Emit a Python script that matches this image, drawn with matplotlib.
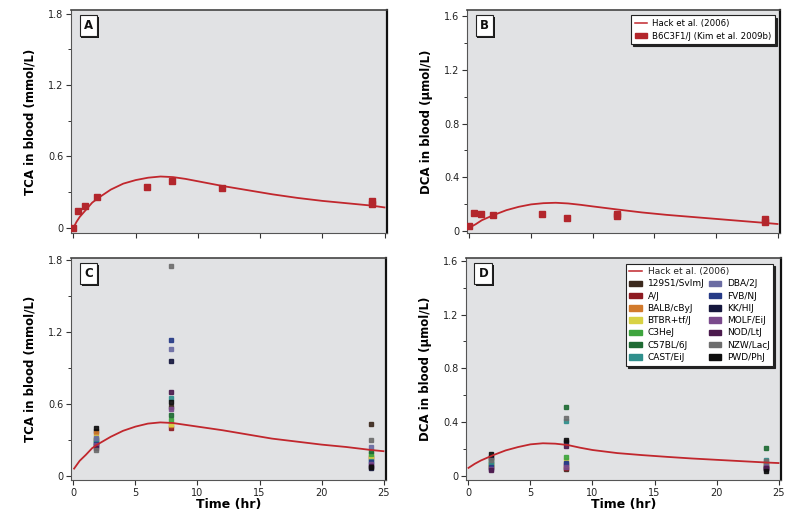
import matplotlib
matplotlib.use("Agg")
import matplotlib.pyplot as plt
from matplotlib.lines import Line2D
from matplotlib.patches import Patch
from matplotlib.ticker import MultipleLocator, FixedLocator
import matplotlib.patheffects as pe

plt.rcParams['font.family'] = ['Liberation Sans Narrow', 'DejaVu Sans']

RED = '#c1272d'
BG = '#e1e2e4'

# ---------------- data ----------------
# B6C3F1/J (Kim et al. 2009b)
kim_time = [0, 0.4, 0.9, 1.9, 5.9, 7.9, 11.95, 24, 24]
kim_tca = [0.0, 0.14, 0.18, 0.26, 0.34, 0.395, 0.33, 0.20, 0.22]
kim_dca_time = [0, 0.4, 0.9, 1.9, 5.9, 7.9, 11.95, 11.95, 24, 24]
kim_dca = [0.04, 0.135, 0.125, 0.12, 0.125, 0.10, 0.11, 0.13, 0.07, 0.09]

# Hack et al. (2006) model curves
curve_t_a = [0, 0.25, 0.5, 1, 1.5, 2, 3, 4, 5, 6, 7, 8, 9, 10, 11, 12, 14, 16, 18, 20, 22, 24, 25]
hack_tca_a = [0, 0.05, 0.09, 0.15, 0.21, 0.25, 0.32, 0.37, 0.40, 0.42, 0.43, 0.425, 0.41, 0.39,
              0.37, 0.35, 0.315, 0.28, 0.25, 0.225, 0.205, 0.185, 0.17]
curve_t_b = [0, 0.5, 1, 2, 3, 4, 5, 6, 7, 8, 9, 10, 12, 14, 16, 18, 20, 22, 24, 25]
hack_dca_b = [0.025, 0.05, 0.08, 0.12, 0.155, 0.18, 0.198, 0.207, 0.21, 0.205, 0.195, 0.183,
              0.16, 0.138, 0.12, 0.105, 0.09, 0.075, 0.06, 0.052]
curve_t_c = [0.05, 0.5, 1, 1.5, 2, 3, 4, 5, 6, 7, 8, 9, 10, 12, 14, 16, 18, 20, 22, 24, 25]
hack_tca_c = [0.065, 0.13, 0.18, 0.235, 0.27, 0.33, 0.38, 0.415, 0.44, 0.45, 0.445, 0.43, 0.415,
              0.385, 0.35, 0.315, 0.29, 0.265, 0.245, 0.22, 0.21]
curve_t_d = [0, 0.5, 1, 2, 3, 4, 5, 6, 7, 8, 9, 10, 12, 14, 16, 18, 20, 22, 24, 25]
hack_dca_d = [0.06, 0.09, 0.115, 0.155, 0.19, 0.215, 0.235, 0.243, 0.24, 0.23, 0.21, 0.193,
              0.17, 0.155, 0.142, 0.13, 0.12, 0.11, 0.10, 0.096]

# mouse strains
strains = ['129S1/SvImJ', 'A/J', 'BALB/cByJ', 'BTBR+tf/J', 'C3HeJ', 'C57BL/6J', 'CAST/EiJ',
           'DBA/2J', 'FVB/NJ', 'KK/HIJ', 'MOLF/EiJ', 'NOD/LtJ', 'NZW/LacJ', 'PWD/PhJ']
strain_colors = ['#3d2a1e', '#8e1b22', '#d27a2c', '#d8d244', '#3ea53e', '#1f6b34', '#2f8f8c',
                 '#6b6ca3', '#263a86', '#15173d', '#7a4a8c', '#4b1a4d', '#6e6e6e', '#0e0e0e']
strain_times = [1.85, 7.9, 24]
tca_t2 = [0.38, 0.30, 0.36, 0.33, 0.31, 0.28, 0.29, 0.32, 0.27, 0.25, 0.26, 0.24, 0.22, 0.40]
tca_t8 = [0.58, 0.40, 0.43, 0.44, 0.47, 0.51, 0.65, 1.06, 1.14, 0.96, 0.56, 0.70, 1.75, 0.62]
tca_t24 = [0.44, 0.15, 0.16, 0.17, 0.19, 0.21, 0.13, 0.245, 0.12, 0.07, 0.10, 0.09, 0.30, 0.08]
dca_t2 = [0.13, 0.08, 0.07, 0.075, 0.09, 0.11, 0.10, 0.06, 0.07, 0.14, 0.05, 0.045, 0.12, 0.16]
dca_t8 = [0.05, 0.06, 0.08, 0.12, 0.14, 0.51, 0.41, 0.09, 0.10, 0.25, 0.07, 0.22, 0.43, 0.27]
dca_t24 = [0.07, 0.06, 0.08, 0.09, 0.10, 0.21, 0.12, 0.08, 0.06, 0.05, 0.07, 0.06, 0.11, 0.04]

panel_labels = ['A', 'B', 'C', 'D']
tca_label = 'TCA in blood (mmol/L)'
dca_label = 'DCA in blood (\u03bcmol/L)'
x_label = 'Time (hr)'
hack_name = 'Hack et al. (2006)'
kim_name = 'B6C3F1/J (Kim et al. 2009b)'

# ---------------- figure ----------------
fig = plt.figure(figsize=(8, 5.2), dpi=100)
W, H = 800, 520

def make_ax(x0, x1, y0, y1):
    return fig.add_axes([x0 / W, 1 - y1 / H, (x1 - x0) / W, (y1 - y0) / H])

axA = make_ax(71, 387, 10, 233)
axB = make_ax(467, 780, 10, 233)
axC = make_ax(71, 386, 258, 480)
axD = make_ax(466, 781, 258, 480)

def style(ax, ymax_major, ystep, ylim, ylabel, show_x):
    ax.set_facecolor(BG)
    ax.set_xlim(-0.2, 25.2)
    ax.set_ylim(*ylim)
    ax.xaxis.set_major_locator(FixedLocator([0, 5, 10, 15, 20, 25]))
    ax.yaxis.set_minor_locator(MultipleLocator(ystep / 2))
    ticks = [i * ystep for i in range(int(round(ymax_major / ystep)) + 1)]
    ax.set_yticks(ticks)
    ax.set_yticklabels(['0'] + ['%.1f' % t for t in ticks[1:]])
    ax.tick_params(axis='both', which='major', length=3.5, width=0.8, labelsize=7,
                   color='#333333', labelcolor='#222222', pad=2)
    ax.tick_params(axis='y', which='minor', length=2.5, width=0.7, color='#333333')
    if not show_x:
        ax.set_xticklabels([])
    else:
        ax.set_xlabel(x_label, fontsize=9, fontweight='bold', labelpad=0)
    ax.set_ylabel(ylabel, fontsize=8.5, fontweight='bold', labelpad=8)
    for s in ['left', 'bottom']:
        ax.spines[s].set_color('#555555')
        ax.spines[s].set_linewidth(0.8)
    ax.spines['top'].set_color('#444444')
    ax.spines['top'].set_linewidth(1.2)
    ax.spines['right'].set_color('#111111')
    ax.spines['right'].set_linewidth(1.6)

def panel_label(ax, txt):
    t = ax.text(0.055, 0.93, txt, transform=ax.transAxes, fontsize=8.5,
                fontweight='bold', color='#111111', ha='center', va='center',
                bbox=dict(boxstyle='square,pad=0.35', fc='white', ec='#222222', lw=0.8), zorder=6)
    t.get_bbox_patch().set_path_effects([
        pe.SimplePatchShadow(offset=(1.3, -1.3), shadow_rgbFace='#1a1a1a', alpha=1.0),
        pe.Normal()])

style(axA, 1.8, 0.6, (-0.045, 1.83), tca_label, False)
style(axB, 1.6, 0.4, (-0.015, 1.645), dca_label, False)
style(axC, 1.8, 0.6, (-0.03, 1.82), tca_label, True)
style(axD, 1.6, 0.4, (-0.03, 1.62), dca_label, True)

# panel A
axA.plot(curve_t_a, hack_tca_a, color=RED, lw=1.3, zorder=3)
axA.plot(kim_time, kim_tca, 's', color='#b3262c', ms=3.8, zorder=4)
# panel B
axB.plot(curve_t_b, hack_dca_b, color=RED, lw=1.3, zorder=3)
axB.plot(kim_dca_time, kim_dca, 's', color='#b3262c', ms=3.8, zorder=4)

# panels C, D
for i, (name, col) in enumerate(zip(strains, strain_colors)):
    axC.plot(strain_times, [tca_t2[i], tca_t8[i], tca_t24[i]], 's', ls='none', color=col,
             mec=col, ms=3.2, alpha=0.9, zorder=3)
    axD.plot(strain_times, [dca_t2[i], dca_t8[i], dca_t24[i]], 's', ls='none', color=col,
             mec=col, ms=3.2, alpha=0.9, zorder=3)
axC.plot(curve_t_c, hack_tca_c, color=RED, lw=1.3, zorder=4)
axD.plot(curve_t_d, hack_dca_d, color=RED, lw=1.3, zorder=4)

for ax, t in zip([axA, axB, axC, axD], panel_labels):
    panel_label(ax, t)

shadow = {'color': '#222222', 'alpha': 1.0, 'ox': 1.5, 'oy': -1.5}

# legend B
hB = [Line2D([], [], color=RED, lw=1.1), Patch(fc='#b3262c', ec='#b3262c')]
legB = axB.legend(hB, [hack_name, kim_name],
                  loc='upper right', bbox_to_anchor=(0.997, 0.995), fontsize=6.2,
                  frameon=True, fancybox=False, shadow=shadow,
                  framealpha=1, edgecolor='#222222', handlelength=1.4, handleheight=0.6,
                  borderpad=0.4, labelspacing=0.45, handletextpad=0.6)
legB.get_frame().set_linewidth(0.8)

# legend D (first row label written separately so it may span both columns)
hD = [Line2D([], [], color=RED, lw=1.1)]
lD = [' ']
for i in range(7):
    hD.append(Patch(fc=strain_colors[i], ec=strain_colors[i]))
    lD.append(strains[i])
hD.append(Line2D([], [], color='none'))
lD.append(' ')
for i in range(7, 14):
    hD.append(Patch(fc=strain_colors[i], ec=strain_colors[i]))
    lD.append(strains[i])
legD = axD.legend(hD, lD, ncol=2, loc='upper right', bbox_to_anchor=(0.99, 0.995),
                  fontsize=6.5, frameon=True, fancybox=False, shadow=shadow,
                  framealpha=1, edgecolor='#222222', handlelength=1.4, handleheight=0.55,
                  borderpad=0.4, labelspacing=0.36, handletextpad=0.6, columnspacing=0.5)
legD.get_frame().set_linewidth(0.8)

fig.canvas.draw()
r = fig.canvas.get_renderer()
t0 = legD.get_texts()[0]
t1 = legD.get_texts()[1]
e0 = t0.get_window_extent(r)
e1 = t1.get_window_extent(r)
step = (e0.y0 + e0.y1) / 2 - (e1.y0 + e1.y1) / 2
yc = (e1.y0 + e1.y1) / 2 + step
fig.text(e1.x0 / W, yc / H, hack_name, fontsize=6.5, ha='left', va='center',
         color='#222222', zorder=10)

fig.savefig('out.png', dpi=100, facecolor='white')
